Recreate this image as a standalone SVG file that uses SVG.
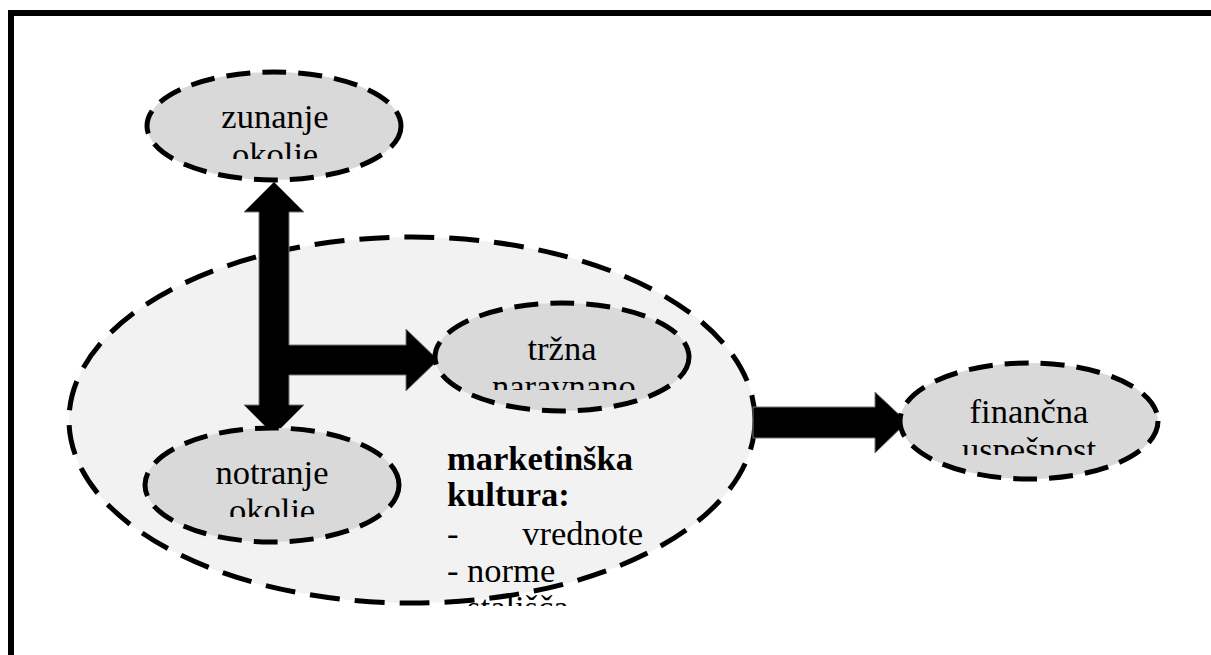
<svg xmlns="http://www.w3.org/2000/svg" width="1211" height="655" viewBox="0 0 1211 655">
<defs>
<style>
.frame{fill:none;stroke:#000;stroke-width:6}
.big{fill:#f2f2f2;stroke:#000;stroke-width:5;stroke-dasharray:30 15}
.node{fill:#d9d9d9;stroke:#000;stroke-width:5;stroke-dasharray:24 12}
.lbl{font-family:"Liberation Serif",serif;font-size:34.5px;fill:#000}
.arrow{fill:#000;stroke:#777;stroke-width:1}
</style>
<clipPath id="c1"><rect x="150" y="90" width="250" height="69"/></clipPath>
<clipPath id="c2"><rect x="440" y="320" width="196" height="70"/></clipPath>
<clipPath id="c3"><rect x="905" y="385" width="250" height="70"/></clipPath>
<clipPath id="c4"><rect x="150" y="445" width="250" height="72"/></clipPath>
<clipPath id="c5"><rect x="440" y="430" width="220" height="176"/></clipPath>
</defs>
<rect width="1211" height="655" fill="#fff"/>
<path class="frame" d="M11,660 V13 H1215"/>
<g id="marketinska-kultura">
<ellipse class="big" cx="412" cy="420" rx="343" ry="183"/>
</g>
<g id="connectors">
<polygon class="arrow" points="274,182 304,212 289,212 289,345 406,345 406,329 438,360 406,391 406,375 289,375 289,405 304,405 274,435 244,405 259,405 259,212 244,212"/>
<polygon class="arrow" points="753,407 875,407 875,392 907,422 875,453 875,438 753,438"/>
</g>
<g id="zunanje-okolje">
<ellipse class="node" cx="274" cy="126" rx="127" ry="54"/>
<text class="lbl" clip-path="url(#c1)" text-anchor="middle"><tspan x="275" y="128">zunanje</tspan><tspan x="275" y="166">okolje</tspan></text>
</g>
<g id="trzna-naravnanost">
<ellipse class="node" cx="562" cy="357" rx="127" ry="54"/>
<text class="lbl" clip-path="url(#c2)"><tspan x="562" y="360" text-anchor="middle">tržna</tspan><tspan x="492" y="398">naravnanost</tspan></text>
</g>
<g id="notranje-okolje">
<ellipse class="node" cx="272" cy="485" rx="127" ry="57"/>
<text class="lbl" clip-path="url(#c4)" text-anchor="middle"><tspan x="272" y="484">notranje</tspan><tspan x="272" y="522">okolje</tspan></text>
</g>
<g id="financna-uspesnost">
<ellipse class="node" cx="1029" cy="421" rx="129" ry="58"/>
<text class="lbl" clip-path="url(#c3)" text-anchor="middle"><tspan x="1029" y="423">finančna</tspan><tspan x="1029" y="461">uspešnost</tspan></text>
</g>
<g id="marketinska-text" clip-path="url(#c5)">
<text class="lbl" font-weight="bold" x="447" y="470">marketinška</text>
<text class="lbl" font-weight="bold" x="447" y="506">kultura:</text>
<text class="lbl" x="447" y="545">-</text>
<text class="lbl" x="643" y="545" text-anchor="end">vrednote</text>
<text class="lbl" x="447" y="582">- norme</text>
<text class="lbl" x="447" y="619">- stališča</text>
</g>
</svg>
